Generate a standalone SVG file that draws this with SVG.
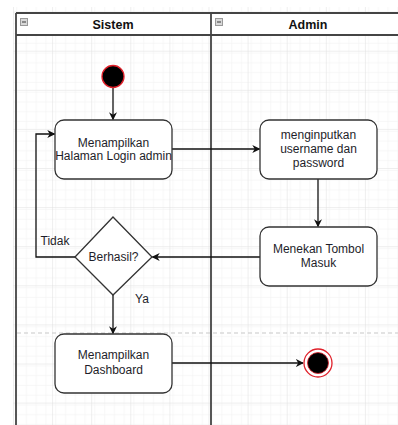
<svg xmlns="http://www.w3.org/2000/svg" width="398" height="425" viewBox="0 0 398 425">
  <style>
    .lbl { font-family: "Liberation Sans", Arial, sans-serif; font-size: 12px; fill: #1e1e2a; text-anchor: middle; }
    .hdr { font-family: "Liberation Sans", Arial, sans-serif; font-size: 12.5px; font-weight: bold; fill: #111; text-anchor: middle; }
    .act { fill: #ffffff; stroke: #333; stroke-width: 1.3; }
    .edge { fill: none; stroke: #111; stroke-width: 1.3; }
    .lane { fill: none; stroke: #444; stroke-width: 1.8; }
  </style>
  <defs>
    <pattern id="minor" x="13" y="11.6" width="9.775" height="9.775" patternUnits="userSpaceOnUse">
      <path d="M 9.775 0 L 0 0 0 9.775" fill="none" stroke="#efefef" stroke-width="1"/>
    </pattern>
    <pattern id="major" x="13" y="11.6" width="39.1" height="39.1" patternUnits="userSpaceOnUse">
      <rect width="39.1" height="39.1" fill="url(#minor)"/>
      <path d="M 39.1 0 L 0 0 0 39.1" fill="none" stroke="#dedede" stroke-width="1"/>
    </pattern>
    <marker id="arrow" viewBox="0 0 10 10" refX="9" refY="5" markerWidth="8" markerHeight="8" markerUnits="userSpaceOnUse" orient="auto">
      <path d="M 0 0 L 10 5 L 0 10 L 3 5 z" fill="#111"/>
    </marker>
  </defs>

  <!-- background grid -->
  <rect x="0" y="0" width="398" height="425" fill="#ffffff"/>
  <rect x="13" y="7" width="385" height="418" fill="url(#major)"/>

  <!-- swimlane pool -->
  <g id="pool">
    <rect x="16" y="13" width="392" height="22" fill="#ffffff"/>
    <line class="lane" x1="16" y1="13" x2="398" y2="13"/>
    <line class="lane" x1="16" y1="35" x2="398" y2="35"/>
    <line class="lane" x1="16" y1="13" x2="16" y2="425"/>
    <line class="lane" x1="211" y1="13" x2="211" y2="425"/>
    <line x1="17" y1="333" x2="398" y2="333" stroke="#c8c8c8" stroke-width="1.2" stroke-dasharray="4 3"/>
  </g>
  <g id="lane-sistem">
    <rect x="20.5" y="18.5" width="7" height="7" fill="#d8d8d8" stroke="#999" stroke-width="1"/>
    <line x1="22" y1="22" x2="26" y2="22" stroke="#555" stroke-width="1.2"/>
    <text class="hdr" x="113" y="28.5">Sistem</text>
  </g>
  <g id="lane-admin">
    <rect x="215.5" y="18.5" width="7" height="7" fill="#d8d8d8" stroke="#999" stroke-width="1"/>
    <line x1="217" y1="22" x2="221" y2="22" stroke="#555" stroke-width="1.2"/>
    <text class="hdr" x="308" y="28.5">Admin</text>
  </g>

  <!-- connectors -->
  <g id="connectors">
    <line class="edge" x1="113" y1="88" x2="113" y2="119.5" marker-end="url(#arrow)"/>
    <line class="edge" x1="172" y1="149" x2="259.5" y2="149" marker-end="url(#arrow)"/>
    <line class="edge" x1="318" y1="179" x2="318" y2="226.5" marker-end="url(#arrow)"/>
    <line class="edge" x1="260" y1="257" x2="152.5" y2="257" marker-end="url(#arrow)"/>
    <polyline class="edge" points="75,257 36,257 36,134 54.5,134" marker-end="url(#arrow)"/>
    <line class="edge" x1="113" y1="295" x2="113" y2="333.5" marker-end="url(#arrow)"/>
    <line class="edge" x1="172" y1="363" x2="303" y2="363" marker-end="url(#arrow)"/>
    <text class="lbl" x="55" y="245">Tidak</text>
    <text class="lbl" x="142" y="303">Ya</text>
  </g>

  <!-- nodes -->
  <g id="start">
    <circle cx="113" cy="76.5" r="11" fill="#000" stroke="#e0202a" stroke-width="1.3"/>
  </g>
  <g id="show-login">
    <rect class="act" x="55" y="120" width="117" height="59" rx="9"/>
    <text class="lbl" x="113.5" y="147">Menampilkan</text>
    <text class="lbl" x="113.5" y="160">Halaman Login admin</text>
  </g>
  <g id="input-credentials">
    <rect class="act" x="260" y="120" width="117" height="59" rx="9"/>
    <text class="lbl" x="318.5" y="139">menginputkan</text>
    <text class="lbl" x="318.5" y="153">username dan</text>
    <text class="lbl" x="318.5" y="167">password</text>
  </g>
  <g id="press-login">
    <rect class="act" x="260" y="227" width="117" height="59" rx="9"/>
    <text class="lbl" x="318.5" y="253">Menekan Tombol</text>
    <text class="lbl" x="318.5" y="267">Masuk</text>
  </g>
  <g id="decision">
    <polygon class="act" points="113,217 152,257 113,295 75,257"/>
    <text class="lbl" x="113.5" y="261">Berhasil?</text>
  </g>
  <g id="show-dashboard">
    <rect class="act" x="55" y="334" width="117" height="59" rx="9"/>
    <text class="lbl" x="113.5" y="359">Menampilkan</text>
    <text class="lbl" x="113.5" y="374">Dashboard</text>
  </g>
  <g id="end">
    <circle cx="318" cy="363" r="14" fill="#ffffff" stroke="#e0202a" stroke-width="1.3"/>
    <circle cx="318" cy="363" r="10.5" fill="#000" stroke="#e0202a" stroke-width="0.8"/>
  </g>
</svg>
